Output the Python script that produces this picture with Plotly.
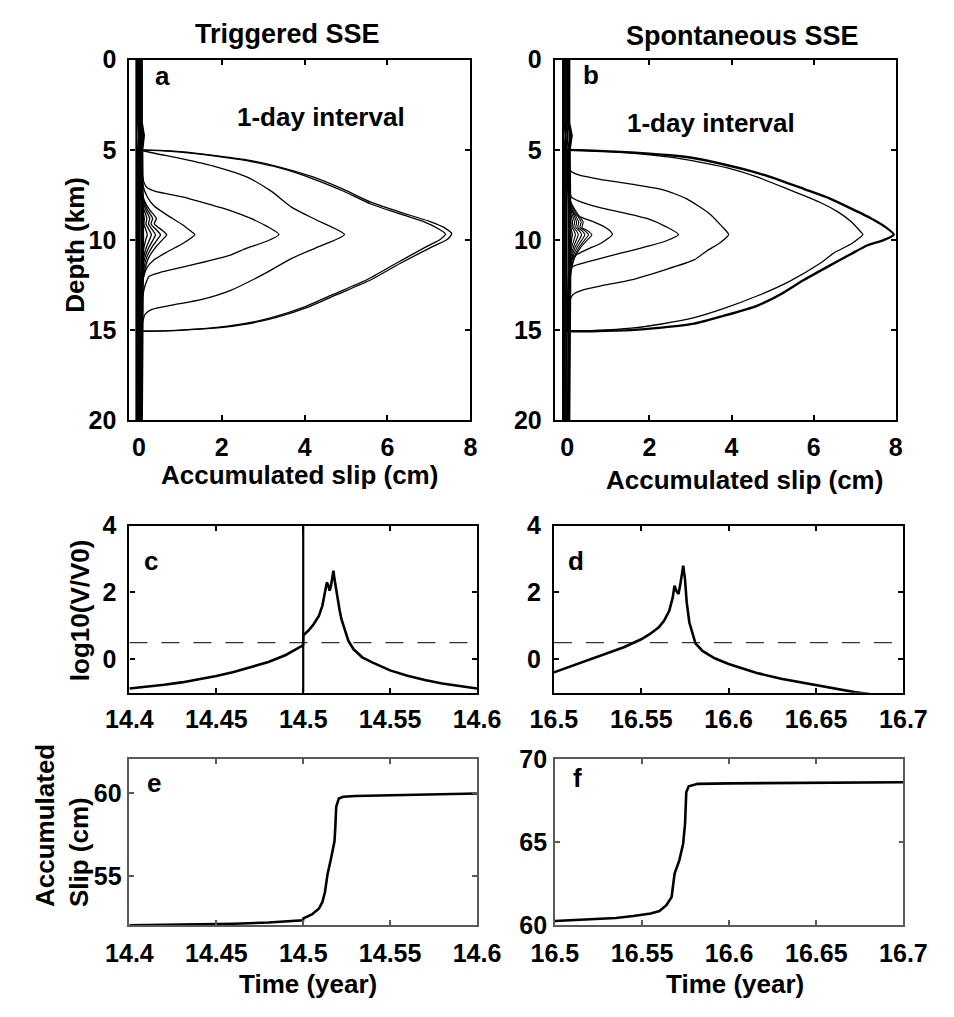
import plotly.graph_objects as go

FONT = "Liberation Sans, Arial, Helvetica, sans-serif"
W, H = 954, 1017

# ---------------- panel a: triggered SSE, slip profiles at 1-day interval ----------------
A_BAND_DEPTH = [0.0, 3.5, 4.2, 4.8, 5.0, 10.0, 15.0, 20.0]
A_BAND1 = [-0.06, -0.06, -0.05, -0.06, -0.06, -0.06, -0.06, -0.06]
A_BAND2 = [-0.02, -0.02, 0.00, -0.02, -0.02, -0.02, -0.02, -0.02]
A_BAND3 = [0.01, 0.01, 0.04, 0.01, 0.01, 0.01, 0.01, 0.01]
A_BAND4 = [0.04, 0.04, 0.08, 0.05, 0.05, 0.06, 0.05, 0.04]
A_BAND5 = [0.07, 0.07, 0.12, 0.08, 0.08, 0.10, 0.09, 0.07]

A_WIGGLE_DEPTH = [5.0, 7.0, 7.8, 8.3, 8.8, 9.1, 9.45, 9.7, 9.95, 10.4, 11.0, 12.0, 13.5, 15.0]
A_DAY1 = [0.02, 0.04, 0.06, 0.09, 0.13, 0.12, 0.17, 0.20, 0.17, 0.12, 0.08, 0.05, 0.03, 0.02]
A_DAY2 = [0.02, 0.04, 0.07, 0.12, 0.19, 0.17, 0.25, 0.30, 0.26, 0.18, 0.11, 0.06, 0.03, 0.02]
A_DAY3 = [0.02, 0.05, 0.09, 0.16, 0.26, 0.23, 0.33, 0.40, 0.35, 0.24, 0.14, 0.07, 0.04, 0.02]
A_DAY4 = [0.02, 0.05, 0.11, 0.20, 0.33, 0.29, 0.43, 0.52, 0.45, 0.31, 0.18, 0.09, 0.04, 0.02]
A_DAY5 = [0.02, 0.06, 0.13, 0.25, 0.42, 0.37, 0.56, 0.67, 0.58, 0.40, 0.23, 0.11, 0.05, 0.02]

A_DAY6_SLIP = [0.03, 0.05, 0.10, 0.20, 0.36, 0.67, 1.05, 1.25, 1.35, 1.25, 1.05, 0.67, 0.36, 0.20, 0.10, 0.05, 0.03]
A_DAY6_DEPTH = [5.0, 6.0, 7.0, 7.6, 8.1, 8.6, 9.15, 9.5, 9.69, 9.9, 10.2, 10.67, 11.1, 11.5, 12.2, 13.5, 15.0]

A_DAY7_SLIP = [0.03, 0.06, 0.12, 0.20, 0.40, 1.05, 1.60, 2.19, 2.70, 3.10, 3.38, 3.10, 2.60, 2.19, 1.60,
               1.05, 0.50, 0.25, 0.15, 0.08, 0.04, 0.03]
A_DAY7_DEPTH = [5.0, 6.0, 6.8, 7.1, 7.3, 7.6, 7.95, 8.35, 8.8, 9.25, 9.69, 10.05, 10.45, 10.85, 11.2,
                11.5, 11.8, 12.0, 12.5, 13.3, 14.5, 15.0]

A_DAY8_SLIP = [0.0, 0.10, 0.40, 1.05, 1.80, 2.60, 3.20, 3.70, 4.30, 4.96, 4.30, 3.70, 3.00, 2.20, 1.50,
               0.80, 0.30, 0.15, 0.08, 0.03]
A_DAY8_DEPTH = [5.0, 5.05, 5.2, 5.5, 5.9, 6.5, 7.3, 8.2, 8.9, 9.69, 10.4, 11.0, 11.9, 12.8, 13.3,
                13.6, 13.85, 14.1, 14.6, 15.0]

A_DAY9_SLIP = [0.0, 0.5, 1.0, 1.8, 2.6, 3.4, 4.2, 4.9, 5.6, 6.3, 6.9, 7.25, 7.40, 7.28, 6.95, 6.2, 5.5,
               4.7, 4.0, 3.2, 2.5, 1.7, 0.9, 0.3, 0.0]
A_DAY9_DEPTH = [5.0, 5.04, 5.12, 5.33, 5.6, 6.0, 6.6, 7.25, 8.0, 8.55, 9.0, 9.4, 9.66, 9.95, 10.35, 11.3,
                12.2, 13.0, 13.7, 14.3, 14.65, 14.88, 15.0, 15.05, 15.05]

A_DAY10_SLIP = [0.0, 0.5, 1.0, 1.8, 2.6, 3.4, 4.2, 4.9, 5.6, 6.3, 7.0, 7.4, 7.55, 7.45, 7.1, 6.3, 5.6,
                4.8, 4.1, 3.3, 2.6, 1.8, 1.0, 0.4, 0.0]
A_DAY10_DEPTH = [5.0, 5.03, 5.1, 5.3, 5.55, 5.95, 6.5, 7.15, 7.9, 8.45, 8.95, 9.35, 9.65, 9.95, 10.35,
                 11.3, 12.2, 13.0, 13.7, 14.3, 14.65, 14.88, 15.0, 15.05, 15.05]

# ---------------- panel b: spontaneous SSE, slip profiles at 1-day interval ----------------
B_BAND_DEPTH = [0.0, 3.5, 4.2, 4.8, 5.0, 10.0, 15.0, 20.0]
B_BAND1 = [-0.10, -0.10, -0.09, -0.10, -0.10, -0.10, -0.10, -0.10]
B_BAND2 = [-0.06, -0.06, -0.04, -0.06, -0.06, -0.06, -0.06, -0.06]
B_BAND3 = [-0.02, -0.02, 0.01, -0.02, -0.02, -0.02, -0.02, -0.02]
B_BAND4 = [0.02, 0.02, 0.07, 0.03, 0.03, 0.04, 0.03, 0.02]
B_BAND5 = [0.05, 0.05, 0.11, 0.06, 0.06, 0.08, 0.06, 0.05]

B_WIGGLE_DEPTH = [5.0, 7.0, 7.9, 8.5, 9.0, 9.3, 9.5, 9.7, 9.95, 10.4, 11.0, 12.0, 13.5, 15.0]
B_DAY1 = [0.01, 0.02, 0.03, 0.05, 0.09, 0.08, 0.11, 0.13, 0.11, 0.08, 0.05, 0.03, 0.02, 0.01]
B_DAY2 = [0.01, 0.02, 0.04, 0.08, 0.13, 0.12, 0.17, 0.20, 0.17, 0.11, 0.07, 0.03, 0.02, 0.01]
B_DAY3 = [0.01, 0.02, 0.05, 0.11, 0.18, 0.16, 0.23, 0.27, 0.23, 0.15, 0.09, 0.04, 0.02, 0.01]
B_DAY4 = [0.01, 0.02, 0.06, 0.14, 0.23, 0.21, 0.30, 0.35, 0.30, 0.19, 0.11, 0.05, 0.02, 0.01]
B_DAY5 = [0.01, 0.03, 0.07, 0.17, 0.28, 0.26, 0.37, 0.43, 0.37, 0.24, 0.13, 0.06, 0.03, 0.01]
B_DAY6 = [0.01, 0.03, 0.08, 0.21, 0.34, 0.31, 0.44, 0.52, 0.44, 0.29, 0.16, 0.07, 0.03, 0.01]
B_DAY7 = [0.01, 0.03, 0.09, 0.24, 0.39, 0.36, 0.51, 0.60, 0.51, 0.33, 0.18, 0.08, 0.04, 0.01]

B_DAY8_SLIP = [0.03, 0.06, 0.12, 0.30, 0.60, 0.85, 1.05, 1.10, 1.00, 0.80, 0.50, 0.26, 0.12, 0.06, 0.03]
B_DAY8_DEPTH = [6.0, 7.8, 8.4, 8.7, 8.95, 9.2, 9.5, 9.69, 9.9, 10.2, 10.5, 10.77, 11.0, 11.8, 15.0]

B_DAY9_SLIP = [0.03, 0.05, 0.10, 0.30, 0.80, 1.40, 1.94, 2.40, 2.71, 2.40, 1.94, 1.56, 1.00, 0.49, 0.20,
               0.10, 0.05, 0.03]
B_DAY9_DEPTH = [5.5, 7.0, 7.6, 7.85, 8.2, 8.5, 8.8, 9.25, 9.69, 10.05, 10.35, 10.58, 10.9, 11.21, 11.4,
                11.55, 12.5, 15.0]

B_DAY10_SLIP = [0.03, 0.06, 0.10, 0.30, 0.80, 1.56, 2.32, 2.90, 3.47, 3.75, 3.93, 3.75, 3.40, 3.09, 2.30,
                1.56, 0.90, 0.41, 0.15, 0.07, 0.04, 0.03]
B_DAY10_DEPTH = [5.5, 6.0, 6.2, 6.4, 6.63, 6.9, 7.2, 7.7, 8.55, 9.2, 9.69, 10.1, 10.6, 11.1, 11.7,
                 12.2, 12.5, 12.74, 13.0, 13.3, 14.0, 15.0]

B_DAY11_SLIP = [0.0, 0.6, 1.56, 2.5, 3.1, 3.9, 4.62, 5.4, 6.15, 6.6, 6.91, 7.15, 7.20, 7.10, 6.91, 6.5,
                6.15, 5.4, 4.62, 3.8, 3.09, 2.3, 1.56, 0.7, 0.0]
B_DAY11_DEPTH = [5.0, 5.05, 5.18, 5.4, 5.62, 6.0, 6.5, 7.2, 7.9, 8.45, 8.97, 9.55, 9.69, 9.9, 10.22,
                 10.7, 11.3, 12.3, 13.1, 13.8, 14.3, 14.65, 14.88, 15.0, 15.03]

B_DAY12_SLIP = [0.0, 0.5, 1.56, 2.5, 3.1, 3.9, 4.62, 5.2, 5.77, 6.4, 6.91, 7.4, 7.7, 7.95, 7.7, 7.3,
                6.91, 6.4, 5.77, 5.2, 4.62, 3.8, 3.09, 2.3, 1.56, 0.6, 0.0]
B_DAY12_DEPTH = [5.0, 5.03, 5.14, 5.3, 5.46, 5.85, 6.27, 6.7, 7.17, 7.7, 8.25, 8.8, 9.2, 9.69, 10.0,
                 10.3, 10.77, 11.4, 12.2, 13.0, 13.64, 14.2, 14.63, 14.85, 14.99, 15.05, 15.05]

# ---------------- panel c / d: slip rate ----------------
C_TIME = [14.400, 14.410, 14.420, 14.430, 14.440, 14.450, 14.460, 14.470, 14.480, 14.490, 14.4999,
          14.5001, 14.503, 14.506, 14.509, 14.511, 14.5125, 14.5136, 14.5145, 14.5152, 14.516, 14.517,
          14.5174, 14.518, 14.519, 14.520, 14.521, 14.522, 14.524, 14.526, 14.529, 14.534, 14.540,
          14.550, 14.560, 14.570, 14.580, 14.590, 14.600]
C_LOGV = [-0.87, -0.82, -0.76, -0.69, -0.60, -0.50, -0.38, -0.24, -0.08, 0.13, 0.42,
          0.72, 0.86, 1.05, 1.30, 1.60, 1.95, 2.30, 2.20, 2.05, 2.20, 2.55,
          2.65, 2.40, 2.05, 1.75, 1.45, 1.20, 0.85, 0.55, 0.30, 0.06, -0.10,
          -0.33, -0.49, -0.62, -0.72, -0.80, -0.87]
TRIGGER_TIME = 14.5
THRESHOLD = 0.5

D_TIME = [16.500, 16.510, 16.520, 16.530, 16.540, 16.545, 16.550, 16.555, 16.560, 16.563, 16.566,
          16.568, 16.569, 16.570, 16.5713, 16.5725, 16.574, 16.575, 16.576, 16.5775, 16.579, 16.581,
          16.585, 16.592, 16.600, 16.617, 16.630, 16.650, 16.672, 16.690, 16.700]
D_LOGV = [-0.39, -0.20, -0.02, 0.17, 0.36, 0.48, 0.60, 0.76, 0.96, 1.15, 1.45,
          1.85, 2.20, 2.05, 1.95, 2.30, 2.80, 2.40, 1.70, 1.10, 0.80, 0.48,
          0.25, 0.03, -0.14, -0.42, -0.58, -0.78, -0.98, -1.10, -1.15]

# ---------------- panel e / f: accumulated slip ----------------
E_TIME = [14.400, 14.430, 14.460, 14.480, 14.490, 14.4999, 14.5001, 14.505, 14.509, 14.511, 14.5125,
          14.514, 14.5155, 14.517, 14.518, 14.5185, 14.519, 14.5205, 14.523, 14.530, 14.550, 14.575, 14.600]
E_SLIP = [52.00, 52.04, 52.09, 52.16, 52.21, 52.30, 52.42, 52.65, 53.00, 53.40, 54.00,
          55.10, 55.80, 56.50, 57.10, 58.00, 59.20, 59.70, 59.80, 59.85, 59.90, 59.95, 60.00]

F_TIME = [16.500, 16.520, 16.535, 16.545, 16.555, 16.560, 16.564, 16.567, 16.5687, 16.5714, 16.5736,
          16.5747, 16.5754, 16.5768, 16.582, 16.600, 16.650, 16.700]
F_SLIP = [60.25, 60.33, 60.43, 60.55, 60.70, 60.85, 61.20, 61.70, 63.10, 63.90, 64.90,
          66.10, 68.00, 68.35, 68.50, 68.53, 68.57, 68.60]

# ---------------- tick labels ----------------
SLIP_TICKS = [0, 2, 4, 6, 8]
DEPTH_TICKS = [0, 5, 10, 15, 20]
C_TICKS = [14.4, 14.45, 14.5, 14.55, 14.6]
C_TICK_TEXT = ["14.4", "14.45", "14.5", "14.55", "14.6"]
D_TICKS = [16.5, 16.55, 16.6, 16.65, 16.7]
D_TICK_TEXT = ["16.5", "16.55", "16.6", "16.65", "16.7"]
LOGV_TICKS = [0, 2, 4]
E_TICKS = [55, 60]
F_TICKS = [60, 65, 70]


def px_x(p):
    return p / W


def px_y(p):
    return 1 - p / H


fig = go.Figure()


def line(x, y, ax, width=1.3, color="black", dash=None, shape="spline"):
    fig.add_trace(go.Scatter(
        x=x, y=y, xaxis="x" + ax, yaxis="y" + ax, mode="lines",
        line=dict(color=color, width=width, dash=dash, shape=shape, smoothing=0.6 if shape == "spline" else None),
        showlegend=False, hoverinfo="skip"))


# panel a
for s in [A_BAND1, A_BAND2, A_BAND3, A_BAND4, A_BAND5]:
    line(s, A_BAND_DEPTH, "", width=2.2, shape="linear")
for s in [A_DAY1, A_DAY2, A_DAY3, A_DAY4, A_DAY5]:
    line(s, A_WIGGLE_DEPTH, "")
line(A_DAY6_SLIP, A_DAY6_DEPTH, "")
line(A_DAY7_SLIP, A_DAY7_DEPTH, "")
line(A_DAY8_SLIP, A_DAY8_DEPTH, "")
line(A_DAY9_SLIP, A_DAY9_DEPTH, "")
line(A_DAY10_SLIP, A_DAY10_DEPTH, "")

# panel b
for s in [B_BAND1, B_BAND2, B_BAND3, B_BAND4, B_BAND5]:
    line(s, B_BAND_DEPTH, "2", width=2.2, shape="linear")
for s in [B_DAY1, B_DAY2, B_DAY3, B_DAY4, B_DAY5, B_DAY6, B_DAY7]:
    line(s, B_WIGGLE_DEPTH, "2", width=1.1)
line(B_DAY8_SLIP, B_DAY8_DEPTH, "2")
line(B_DAY9_SLIP, B_DAY9_DEPTH, "2")
line(B_DAY10_SLIP, B_DAY10_DEPTH, "2")
line(B_DAY11_SLIP, B_DAY11_DEPTH, "2")
line(B_DAY12_SLIP, B_DAY12_DEPTH, "2", width=2.4)

# panel c
line([C_TICKS[0], C_TICKS[-1]], [THRESHOLD, THRESHOLD], "3", width=1.4, color="#333333",
     dash="18px,14px", shape="linear")
line([TRIGGER_TIME, TRIGGER_TIME], [-1, 4], "3", width=2.2, shape="linear")
line(C_TIME, C_LOGV, "3", width=2.6, shape="linear")

# panel d
line([D_TICKS[0], D_TICKS[-1]], [THRESHOLD, THRESHOLD], "4", width=1.4, color="#333333",
     dash="18px,14px", shape="linear")
line(D_TIME, D_LOGV, "4", width=2.6, shape="linear")

# panel e / f
line(E_TIME, E_SLIP, "5", width=2.6, shape="linear")
line(F_TIME, F_SLIP, "6", width=2.6, shape="linear")

tickfont = dict(family=FONT, size=25, color="black", weight="bold")


def axis(domain, rng, tickvals, ticktext=None, color="black", width=2.2, standoff=6, anchor=None):
    d = dict(domain=domain, range=rng, tickmode="array", tickvals=tickvals,
             showline=True, mirror="ticks", linecolor=color, linewidth=width,
             ticks="inside", ticklen=5, tickwidth=1.5, tickcolor=color,
             showgrid=False, zeroline=False, tickfont=tickfont,
             ticklabelstandoff=standoff, fixedrange=True)
    if ticktext is not None:
        d["ticktext"] = ticktext
    if anchor:
        d["anchor"] = anchor
    return d


A_X = [px_x(111), px_x(470)]
B_X = [px_x(559), px_x(918)]
TOP_Y = [px_y(418), px_y(47)]
C_X = [px_x(111), px_x(477)]
D_X = [px_x(558), px_x(926)]
MID_Y = [px_y(698), px_y(526)]
E_X = [px_x(111), px_x(477)]
F_X = [px_x(559), px_x(926)]
BOT_Y = [px_y(937), px_y(766)]

GRAY = "#5a5a5a"

fig.update_layout(
    width=W, height=H, margin=dict(l=0, r=0, t=0, b=0),
    paper_bgcolor="white", plot_bgcolor="white",
    xaxis=axis(A_X, [-0.23, 8], SLIP_TICKS, anchor="y", standoff=3),
    yaxis=axis(TOP_Y, [20, 0], DEPTH_TICKS, anchor="x", standoff=6),
    xaxis2=axis(B_X, [-0.3, 8], SLIP_TICKS, anchor="y2", standoff=3),
    yaxis2=axis(TOP_Y, [20, 0], DEPTH_TICKS, anchor="x2", standoff=6),
    xaxis3=axis(C_X, [14.4, 14.6], C_TICKS, C_TICK_TEXT, anchor="y3", standoff=3),
    yaxis3=axis(MID_Y, [-1, 4], LOGV_TICKS, anchor="x3", standoff=6),
    xaxis4=axis(D_X, [16.5, 16.7], D_TICKS, D_TICK_TEXT, anchor="y4", standoff=3),
    yaxis4=axis(MID_Y, [-1, 4], LOGV_TICKS, anchor="x4", standoff=6),
    xaxis5=axis(E_X, [14.4, 14.6], C_TICKS, C_TICK_TEXT, color=GRAY, width=1.6, anchor="y5", standoff=5),
    yaxis5=axis(BOT_Y, [52, 62.1], E_TICKS, color=GRAY, width=1.6, anchor="x5", standoff=1),
    xaxis6=axis(F_X, [16.5, 16.7], D_TICKS, D_TICK_TEXT, color=GRAY, width=1.6, anchor="y6", standoff=5),
    yaxis6=axis(BOT_Y, [60, 70], F_TICKS, color=GRAY, width=1.6, anchor="x6", standoff=1),
)


def label(text, x, y, size=26, angle=0, align="center"):
    fig.add_annotation(
        text=text, x=px_x(x), y=px_y(y), xref="paper", yref="paper",
        xanchor="center", yanchor="middle", showarrow=False, textangle=angle, align=align,
        font=dict(family=FONT, size=size, color="black", weight="bold"))


label("Triggered SSE", 277, 21, size=27)
label("Spontaneous SSE", 757, 23, size=27)
label("a", 146, 64)
label("b", 597, 63)
label("1-day interval", 313, 106, size=26)
label("1-day interval", 723, 112, size=26)
label("Depth (km)", 54, 237, angle=-90)
label("Accumulated slip (cm)", 290, 474)
label("Accumulated slip (cm)", 759, 479)
label("c", 134, 562)
label("d", 581, 562)
label("log10(V/V0)", 59, 613, angle=-90)
label("e", 137, 791)
label("f", 583, 786)
label("Accumulated<br>Slip (cm)", 40, 834, angle=-90, align="left")
label("Time (year)", 299, 997)
label("Time (year)", 749, 997)

fig.write_html("out.html")
